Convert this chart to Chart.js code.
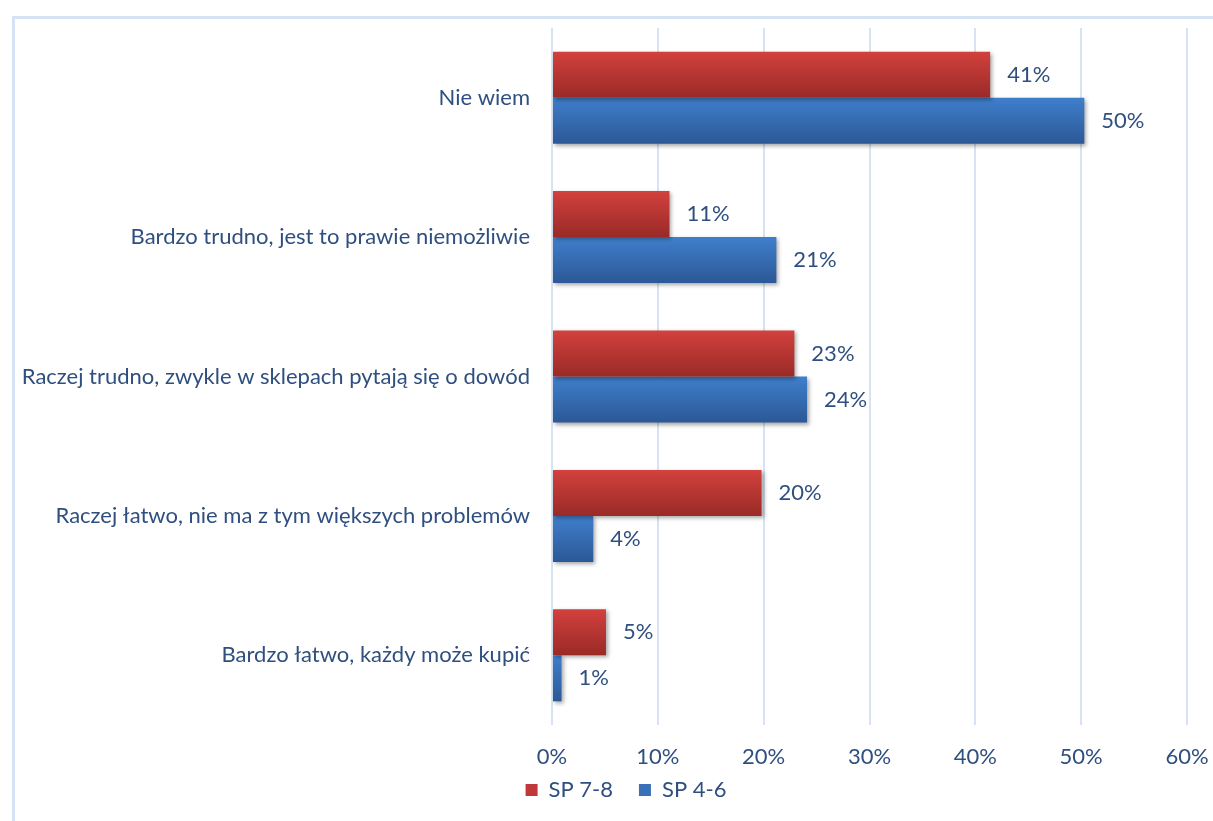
<!DOCTYPE html>
<html>
<head>
<meta charset="utf-8">
<script src="https://cdn.jsdelivr.net/npm/chart.js@4.4.1/dist/chart.umd.min.js"></script>
<style>
  html, body { margin: 0; padding: 0; background: #fff; overflow: hidden; width: 1213px; height: 821px; }
  #frame { position: absolute; left: 12px; top: 16px; width: 1228px; height: 820px; border: 3px solid #d6e3f4; box-sizing: border-box; }
  #box { position: absolute; left: 0; top: 0; width: 1222px; height: 802px; }
</style>
</head>
<body>
<div id="frame"><div id="box"><canvas id="chart"></canvas></div></div>
<script>
  // ===== data =====
  const categories = [
    'Nie wiem',
    'Bardzo trudno, jest to prawie niemożliwie',
    'Raczej trudno, zwykle w sklepach pytają się o dowód',
    'Raczej łatwo, nie ma z tym większych problemów',
    'Bardzo łatwo, każdy może kupić'
  ];
  const seriesNames = ['SP 7-8', 'SP 4-6'];
  const sp78 = [41.4, 11.1, 22.9, 19.8, 5.1];
  const sp46 = [50.3, 21.2, 24.1, 3.9, 0.9];
  const xTicks = [0, 10, 20, 30, 40, 50, 60];

  const textColor = '#2f4f7f';
  const fontFamily = 'Lato, "Liberation Sans", sans-serif';
  const fontSize = 22;

  const colors = [
    { top: '#d2413d', bottom: '#9a2a27', mid: '#c0393a' },
    { top: '#3f7fcc', bottom: '#2c5896', mid: '#3a70b8' }
  ];

  // gradient per bar + shadow + value labels
  const barStyle = {
    id: 'barStyle',
    beforeDatasetsDraw(chart) {
      const c = chart.ctx;
      chart.data.datasets.forEach((ds, i) => {
        chart.getDatasetMeta(i).data.forEach(el => {
          const top = el.y - el.height / 2, bot = el.y + el.height / 2;
          const g = c.createLinearGradient(0, top, 0, bot);
          g.addColorStop(0, colors[i].top);
          g.addColorStop(1, colors[i].bottom);
          el.options.backgroundColor = g;
        });
      });
      c.save();
      c.shadowColor = 'rgba(0,0,0,0.35)';
      c.shadowBlur = 4;
      c.shadowOffsetX = 2;
      c.shadowOffsetY = 2;
    },
    afterDatasetsDraw(chart) {
      const c = chart.ctx;
      c.restore();
      c.save();
      c.font = fontSize + 'px ' + fontFamily;
      c.fillStyle = textColor;
      c.textBaseline = 'middle';
      c.textAlign = 'left';
      chart.data.datasets.forEach((ds, i) => {
        chart.getDatasetMeta(i).data.forEach((el, j) => {
          c.fillText(Math.round(ds.data[j]) + '%', el.x + 17, el.y);
        });
      });
      c.restore();
    }
  };

  new Chart(document.getElementById('chart'), {
    type: 'bar',
    data: {
      labels: categories,
      datasets: [
        { label: seriesNames[0], data: sp78, backgroundColor: () => colors[0].mid },
        { label: seriesNames[1], data: sp46, backgroundColor: () => colors[1].mid }
      ]
    },
    options: {
      indexAxis: 'y',
      responsive: true,
      maintainAspectRatio: false,
      animation: false,
      layout: { padding: { top: 9, right: 0, bottom: 10, left: 0 } },
      datasets: { bar: { categoryPercentage: 0.66, barPercentage: 1.0, borderWidth: 0 } },
      scales: {
        x: {
          min: 0, max: 60,
          afterBuildTicks: s => { s.ticks = xTicks.map(v => ({ value: v })); },
          // room on the right kept by the axis, so the legend stays centred on the whole frame
          afterFit: s => { s.height = 45; s.paddingRight = 50; },
          ticks: { callback: v => v + '%', color: textColor, font: { family: fontFamily, size: fontSize }, padding: 19 },
          grid: { color: '#d6e3f4', lineWidth: 2, drawTicks: false },
          border: { display: false }
        },
        y: {
          afterFit: s => { s.width = 537; s.paddingTop = 0; s.paddingBottom = 0; },
          ticks: { color: textColor, font: { family: fontFamily, size: fontSize }, padding: 22 },
          grid: { display: false, drawTicks: false },
          border: { display: false }
        }
      },
      plugins: {
        legend: {
          position: 'bottom',
          labels: {
            color: textColor,
            font: { family: fontFamily, size: fontSize },
            boxWidth: 12, boxHeight: 12, padding: 9,
            // trailing spaces widen the gap between the two entries
            generateLabels: chart => chart.data.datasets.map((ds, i) => ({
              text: i === 0 ? ds.label + '   ' : ds.label,
              fillStyle: colors[i].mid, strokeStyle: colors[i].mid,
              lineWidth: 0, fontColor: textColor, datasetIndex: i
            }))
          }
        },
        tooltip: { enabled: false }
      }
    },
    plugins: [barStyle]
  });
</script>
</body>
</html>
